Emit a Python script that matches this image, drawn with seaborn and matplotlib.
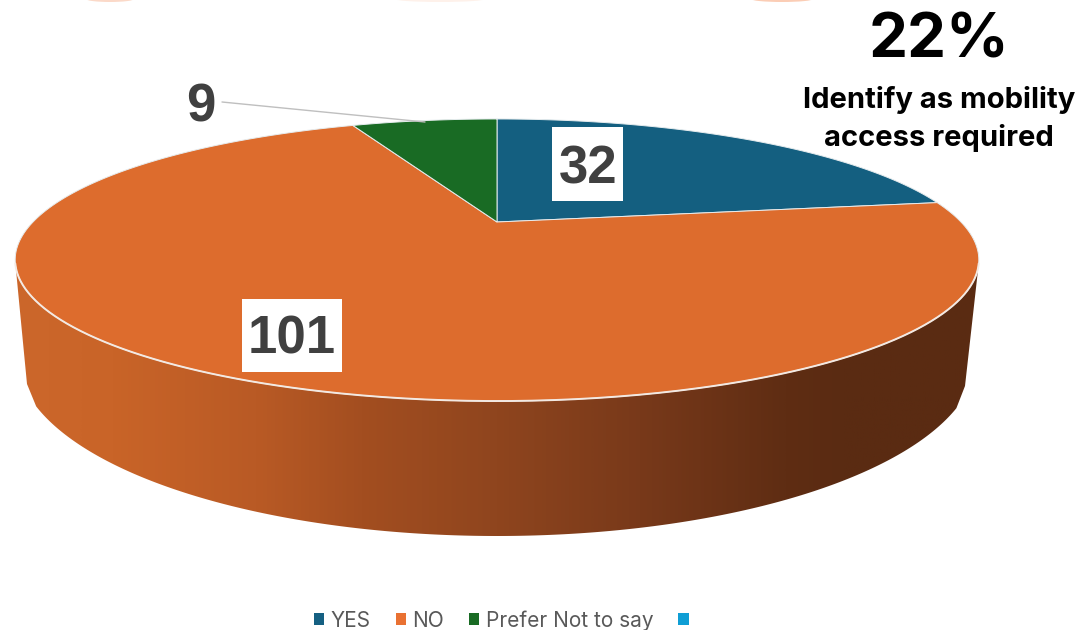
import numpy as np
import seaborn as sns
import matplotlib
matplotlib.use('Agg')
import matplotlib.pyplot as plt
from matplotlib.colors import LinearSegmentedColormap
from matplotlib.patches import Ellipse, Patch, Polygon, Rectangle

# data
categories = ['YES', 'NO', 'Prefer Not to say', '']
counts = [32, 101, 9, 0]
shown_labels = ['32', '101', '9']
headline = '22%'
subtitle = 'Identify as mobility\naccess required'

sns.set_theme(style='white')
plt.rcParams['font.family'] = ['Liberation Sans', 'DejaVu Sans']
colors = sns.color_palette(['#145F80', '#DD6C2D', '#196B24', '#0F9ED5'])
legend_colors = sns.color_palette(['#156082', '#E97132', '#196B24', '#0F9ED5'])

fig, ax = plt.subplots(figsize=(10.88, 6.3), dpi=100)
fig.subplots_adjust(0, 0, 1, 1)

wedges, _ = ax.pie(counts, startangle=90, counterclock=False, colors=colors)
ax.set_aspect('auto')


# tilted view of the unit circle, in pixels of the picture
def tilt(theta):
    t = np.radians(theta)
    w = 1 + 0.2695 * np.sin(t)
    return 497 + 464 * np.cos(t) / w, 222 - 130.8 * np.sin(t) / w


# side of the disc
t = np.radians(np.linspace(0, 180, 300))
sx = 497 + 480 * np.cos(t)
sy = 356 + 180 * np.sin(t)
keep = (sx > 35) & (sx < 957)
side_pts = np.column_stack([np.r_[978, 965, sx[keep], 27, 16], np.r_[270, 386, sy[keep], 384, 270]])
side = Polygon(side_pts, closed=True, fc='none', ec='none')
ax.add_patch(side)
side_cmap = LinearSegmentedColormap.from_list('side', [
    (0.0, '#CC672B'), (0.1, '#C96428'), (0.25, '#B95A25'), (0.36, '#A34E20'),
    (0.5, '#8F451E'), (0.65, '#78391A'), (0.8, '#5F2D13'), (0.86, '#5A2B12'), (1.0, '#5A2B12')])
img = ax.imshow(np.linspace(0, 1, 512)[None, :], cmap=side_cmap, aspect='auto',
                extent=(15, 979, 540, 260), zorder=1)
img.set_clip_path(side)

# top of the disc, one polygon per wedge of the pie
for wedge in wedges:
    if wedge.theta2 - wedge.theta1 < 0.01:
        wedge.remove()
        continue
    x, y = tilt(np.linspace(wedge.theta1, wedge.theta2, 240))
    pts = np.column_stack([np.r_[497, x], np.r_[222, y]])
    ax.add_patch(Polygon(pts, closed=True, fc=wedge.get_facecolor(), ec='#E6ECEE',
                         lw=0.7, zorder=2))
    wedge.remove()
rx, ry = tilt(np.linspace(197, 343, 300))
ax.plot(rx, ry, color='#F3E9E2', lw=1.4, zorder=3)

# leftovers of shapes cut off at the top edge
for cx, wd, tone in [(110, 48, '#FBD9C8'), (440, 90, '#FEF1EA'), (782, 62, '#FBCDB5')]:
    ax.add_patch(Ellipse((cx, -1), wd, 6, fc=tone, ec='none', zorder=1))

# value labels
ax.add_patch(Rectangle((552, 127), 71, 74, fc='white', ec='none', zorder=4))
ax.add_patch(Rectangle((242, 299), 100, 73, fc='white', ec='none', zorder=4))
label_font = dict(fontsize=38, fontweight='bold', color='#404040', ha='center', va='center', zorder=5)
ax.text(588, 169.5, shown_labels[0], **label_font)
ax.text(292, 340, shown_labels[1], **label_font)
ax.text(201, 108, shown_labels[2], **label_font)
ax.plot([222, 425], [102, 122], color='#BFBFBF', lw=1, zorder=4)

# callout
ax.text(938.5, 41, headline, fontsize=44.5, fontweight='bold', color='black',
        ha='center', va='center', zorder=5, family=['Inter', 'DejaVu Sans'])
ax.text(939, 119, subtitle, fontsize=21, fontweight='bold', color='black', ha='center',
        va='center', linespacing=1.42, zorder=5, family=['Inter', 'DejaVu Sans'])

handles = [Patch(fc=c, ec='none') for c in legend_colors]
ax.legend(handles, categories, loc='center', bbox_to_anchor=(0.4636, 1 - 620.5 / 630), ncol=4,
          frameon=False, handlelength=0.5, handleheight=0.5, handletextpad=0.3,
          columnspacing=1.2, borderpad=0, prop={'family': ['Inter', 'DejaVu Sans'], 'size': 15},
          labelcolor='#595959')

ax.set_xlim(0, 1088)
ax.set_ylim(630, 0)
ax.axis('off')
plt.savefig('out.png', dpi=100, facecolor='white')
